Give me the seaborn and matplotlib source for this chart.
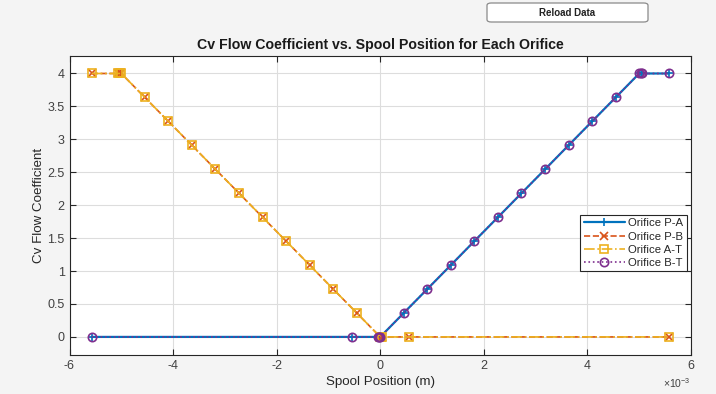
import matplotlib
matplotlib.use("Agg")
import matplotlib.pyplot as plt
import seaborn as sns
import numpy as np
from matplotlib.patches import FancyBboxPatch

# ---- data (spool position in metres, Cv) ----
pa_x = [-5.57e-3, -0.55e-3, -0.04e-3, -0.02e-3, 0.0, 0.4545e-3, 0.909e-3, 1.364e-3, 1.818e-3,
        2.273e-3, 2.727e-3, 3.182e-3, 3.636e-3, 4.091e-3, 4.545e-3, 5.0e-3, 5.03e-3, 5.06e-3, 5.57e-3]
pa_y = [0, 0, 0, 0, 0, 0.364, 0.727, 1.091, 1.455, 1.818, 2.182, 2.545, 2.909, 3.273, 3.636,
        4.0, 4.0, 4.0, 4.0]
pb_x = [-5.57e-3, -5.06e-3, -5.03e-3, -5.0e-3, -4.545e-3, -4.091e-3, -3.636e-3, -3.182e-3,
        -2.727e-3, -2.273e-3, -1.818e-3, -1.364e-3, -0.909e-3, -0.4545e-3, 0.0, 0.02e-3, 0.04e-3,
        0.55e-3, 5.57e-3]
pb_y = [4.0, 4.0, 4.0, 4.0, 3.636, 3.273, 2.909, 2.545, 2.182, 1.818, 1.455, 1.091, 0.727,
        0.364, 0, 0, 0, 0, 0]
at_x = list(pb_x)
at_y = list(pb_y)
bt_x = list(pa_x)
bt_y = list(pa_y)

series = ["Orifice P-A", "Orifice P-B", "Orifice A-T", "Orifice B-T"]
colors = ["#0072BD", "#D95319", "#EDB120", "#7E2F8E"]
styles = ["-", "--", "-.", ":"]
markers = ["+", "x", "s", "o"]
xticks = [-6e-3, -4e-3, -2e-3, 0, 2e-3, 4e-3, 6e-3]
yticks = [0, 0.5, 1, 1.5, 2, 2.5, 3, 3.5, 4]

sns.set_style("white")
plt.rcParams["font.family"] = ["Liberation Sans", "DejaVu Sans"]
plt.rcParams["axes.unicode_minus"] = False

fig = plt.figure(figsize=(7.16, 3.94), dpi=100)
fig.patch.set_facecolor("#F4F4F4")
W, H = 716, 394
ax = fig.add_axes([69.5 / W, 1 - 354.7 / H, (691 - 69.5) / W, (354.7 - 55.7) / H])
ax.set_facecolor("white")

data = [(pa_x, pa_y), (pb_x, pb_y), (at_x, at_y), (bt_x, bt_y)]
for (xs, ys), name, c, ls, mk in zip(data, series, colors, styles, markers):
    sns.lineplot(x=xs, y=ys, ax=ax, color=c, linestyle=ls, marker=mk, label=name,
                 estimator=None, sort=False, linewidth=1.6 if ls == "-" else 1.2,
                 markersize=6, markerfacecolor="none", markeredgecolor=c, markeredgewidth=1.2)

ax.set_xlim(-6e-3, 6e-3)
ax.set_ylim(-0.27, 4.27)
ax.set_xticks(xticks)
ax.set_yticks(yticks)
ax.xaxis.set_major_formatter(plt.FuncFormatter(lambda v, p: f"{round(v * 1e3, 6):g}"))
ax.yaxis.set_major_formatter(plt.FuncFormatter(lambda v, p: f"{v:g}"))
ax.text(1.0, -0.072, "×10$^{\\mathregular{-3}}$", transform=ax.transAxes, ha="right", va="top",
        fontsize=7.5, color="#404040")
ax.grid(True, color="#DDDDDD", linewidth=0.8)
ax.tick_params(direction="in", length=4, width=0.8, colors="#262626", labelsize=9,
               labelcolor="#404040", top=True, right=True, bottom=True, left=True)
for s in ax.spines.values():
    s.set_color("#262626")
    s.set_linewidth(0.8)

ax.set_xlabel("Spool Position (m)", fontsize=9.6, color="#262626", labelpad=3)
ax.set_ylabel("Cv Flow Coefficient", fontsize=9.6, color="#262626", labelpad=2)
ax.set_title("Cv Flow Coefficient vs. Spool Position for Each Orifice",
             fontsize=10.2, fontweight="bold", color="#1a1a1a", pad=5)

leg = ax.legend(loc="center right", bbox_to_anchor=(0.9965, 0.373), fontsize=8.2,
                frameon=True, fancybox=False, framealpha=1, edgecolor="#262626",
                borderpad=0.3, labelspacing=0.28, handlelength=3.6, handletextpad=0.3,
                borderaxespad=0.2)
leg.get_frame().set_linewidth(0.8)

# Reload Data button
bx0, by0, bw, bh = 487 / W, 1 - 22 / H, (648 - 487) / W, 19 / H
btn = FancyBboxPatch((bx0, by0), bw, bh, boxstyle="round,pad=0,rounding_size=0.006",
                     transform=fig.transFigure, facecolor="white", edgecolor="#8a8a8a",
                     linewidth=0.9)
fig.patches.append(btn)
fig.text(bx0 + bw / 2, by0 + bh / 2, "Reload Data", ha="center", va="center",
         fontsize=7, fontweight="bold", color="#222222")

fig.savefig("out.png", dpi=100, facecolor=fig.get_facecolor())
